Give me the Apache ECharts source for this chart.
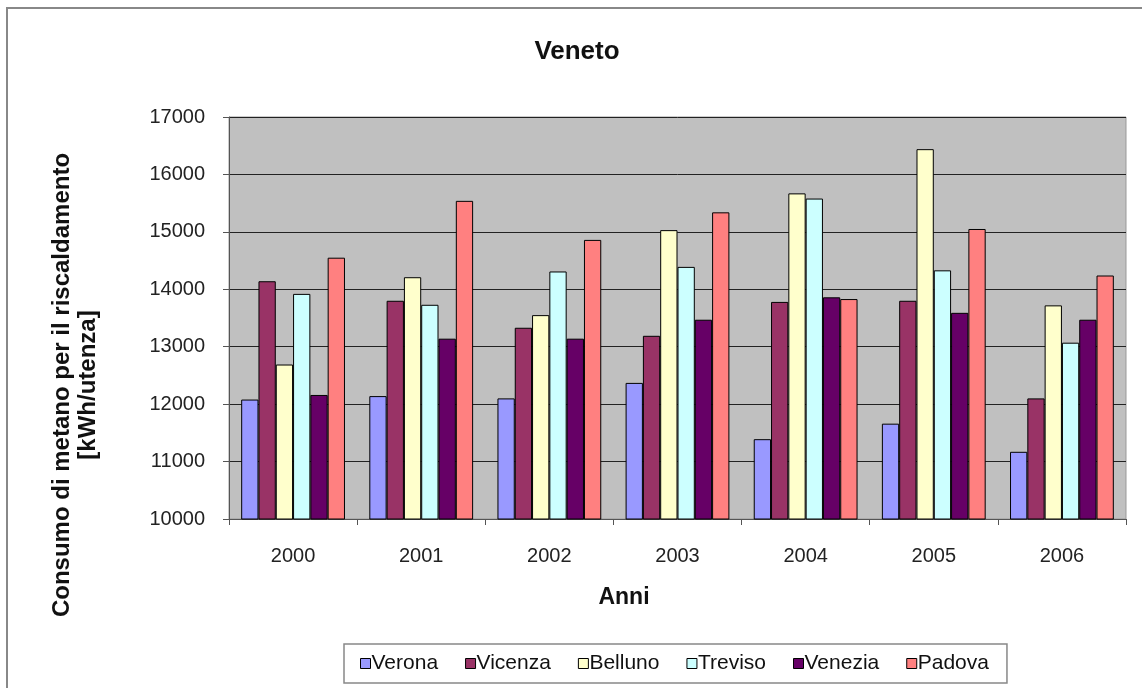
<!DOCTYPE html>
<html>
<head>
<meta charset="utf-8">
<script src="https://cdn.jsdelivr.net/npm/echarts@6/dist/echarts.min.js"></script>
<style>
html,body{margin:0;padding:0;background:#fff;}
#chart{width:1142px;height:688px;}
</style>
</head>
<body>
<div id="chart"></div>
<script>
const categories = ['2000', '2001', '2002', '2003', '2004', '2005', '2006'];
const verona  = [12080, 12140, 12100, 12370, 11390, 11660, 11170];
const vicenza = [14140, 13800, 13330, 13190, 13780, 13800, 12100];
const belluno = [12690, 14210, 13550, 15030, 15670, 16440, 13720];
const treviso = [13920, 13730, 14310, 14390, 15580, 14330, 13070];
const venezia = [12160, 13140, 13140, 13470, 13860, 13590, 13470];
const padova  = [14550, 15540, 14860, 15340, 13830, 15050, 14240];
const seriesNames = ['Verona', 'Vicenza', 'Belluno', 'Treviso', 'Venezia', 'Padova'];
const seriesColors = ['#9999FF', '#993366', '#FFFFCC', '#CCFFFF', '#660066', '#FF8080'];
const seriesData = [verona, vicenza, belluno, treviso, venezia, padova];
const chartTitle = 'Veneto';
const yTitle1 = 'Consumo di metano per il riscaldamento';
const yTitle2 = '[kWh/utenza]';
const xTitle = 'Anni';

const FONT = "'Liberation Sans', Arial, sans-serif";
const chart = echarts.init(document.getElementById('chart'), null, {renderer: 'canvas'});

const option = {
  backgroundColor: '#fff',
  animation: false,
  textStyle: {fontFamily: FONT, color: '#111'},
  graphic: [
    {type: 'rect', shape: {x: 7, y: 8, width: 1200, height: 700},
     style: {fill: 'none', stroke: '#888', lineWidth: 2}, z: -10, silent: true},
    {type: 'text', x: 577, y: 52,
     style: {text: chartTitle, font: 'bold 26px ' + FONT, fill: '#111', align: 'center', verticalAlign: 'middle'}},
    {type: 'text', x: 624, y: 598,
     style: {text: xTitle, font: 'bold 23px ' + FONT, fill: '#111', align: 'center', verticalAlign: 'middle'}},
    {type: 'text', x: 62, y: 385, rotation: Math.PI / 2,
     style: {text: yTitle1, font: 'bold 24px ' + FONT, fill: '#111', align: 'center', verticalAlign: 'middle'}},
    {type: 'text', x: 88, y: 385, rotation: Math.PI / 2,
     style: {text: yTitle2, font: 'bold 24px ' + FONT, fill: '#111', align: 'center', verticalAlign: 'middle'}}
  ],
  legend: {
    left: 344, top: 644,
    orient: 'horizontal',
    data: seriesNames,
    icon: 'rect',
    itemWidth: 10, itemHeight: 10,
    itemGap: 27,
    padding: [9, 18, 9, 16],
    borderColor: '#888', borderWidth: 1.5,
    backgroundColor: '#fff',
    textStyle: {fontFamily: FONT, fontSize: 21, color: '#111', padding: [0, 0, 0, -4]},
    itemStyle: {borderColor: '#000', borderWidth: 1}
  },
  grid: {
    left: 229, right: 16, top: 117, bottom: 169,
    show: true, backgroundColor: '#C0C0C0', borderColor: '#999', borderWidth: 1,
    containLabel: false
  },
  xAxis: {
    type: 'category',
    data: categories,
    boundaryGap: true,
    axisLine: {show: true, lineStyle: {color: '#555', width: 1}},
    axisTick: {show: true, length: 6, inside: false, lineStyle: {color: '#555'}},
    axisLabel: {fontFamily: FONT, fontSize: 20, color: '#222', margin: 27}
  },
  yAxis: {
    type: 'value',
    min: 10000, max: 17000, interval: 1000,
    axisLine: {show: true, lineStyle: {color: '#555', width: 1}},
    axisTick: {show: true, length: 6, inside: false, lineStyle: {color: '#555'}},
    axisLabel: {fontFamily: FONT, fontSize: 20, color: '#222', margin: 24,
                formatter: function (v) { return String(v); }},
    splitLine: {show: true, lineStyle: {color: '#222', width: 1}}
  },
  series: seriesNames.map((name, i) => ({
    name: name,
    type: 'bar',
    data: seriesData[i],
    barGap: '0%',
    barCategoryGap: '19%',
    itemStyle: {color: seriesColors[i], borderColor: '#000', borderWidth: 1}
  }))
};
chart.setOption(option);
</script>
</body>
</html>
